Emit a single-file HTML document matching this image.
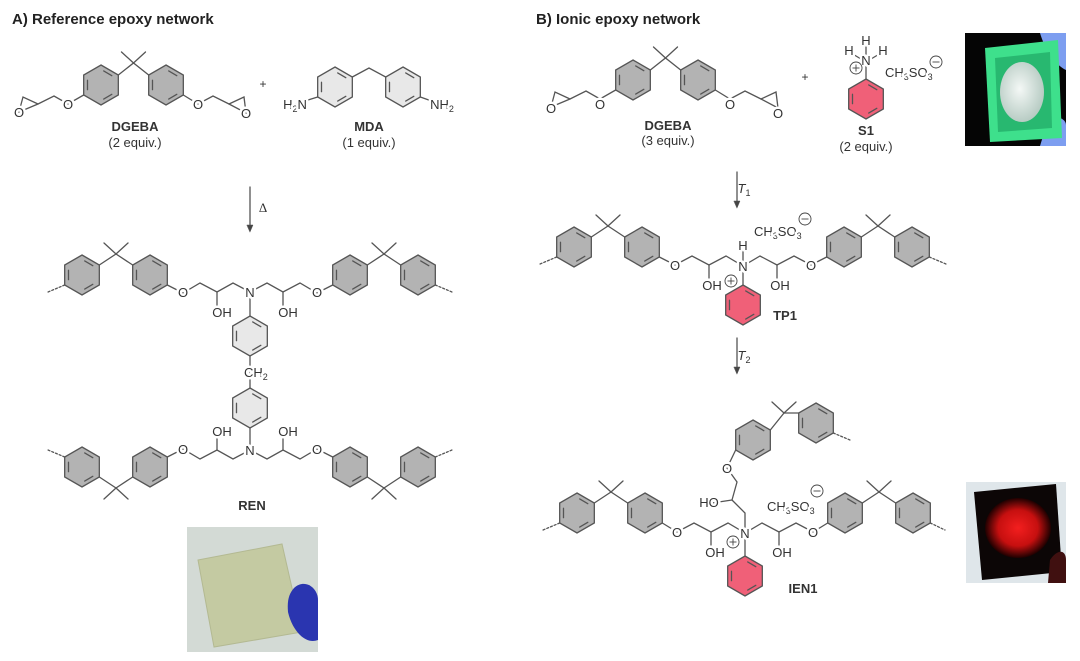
<!DOCTYPE html>
<html><head><meta charset="utf-8"><style>
html,body{margin:0;padding:0;background:#fff;}
svg{display:block;}
text{font-family:"Liberation Sans",sans-serif;fill:#333;}
.a{font-size:13px;text-anchor:middle;paint-order:stroke;stroke:#fff;stroke-width:5px;stroke-linejoin:round;}
.b{font-size:13px;font-weight:bold;text-anchor:middle;}
.e{font-size:13px;text-anchor:middle;}
.t{font-size:15px;font-weight:bold;fill:#222;}
.s{font-size:9px;}
</style></head><body>
<svg id="s" width="1080" height="661" viewBox="0 0 1080 661" xmlns="http://www.w3.org/2000/svg">
<defs>
<radialGradient id="rg" cx="50%" cy="50%" r="50%"><stop offset="0" stop-color="#ff2020"/><stop offset="0.6" stop-color="#d01010"/><stop offset="1" stop-color="#200000"/></radialGradient>
<radialGradient id="wg" cx="45%" cy="45%" r="55%"><stop offset="0" stop-color="#f4f8f6"/><stop offset="1" stop-color="#b8ccc4"/></radialGradient>
</defs>
<!-- photos -->
<rect x="187" y="527" width="131" height="125" fill="#d3dad5"/>
<polygon points="198,560 282,544 302,632 214,647" fill="#c4caa2" stroke="#b3b992"/>
<path d="M294,588 C305,578 318,588 318,600 L318,640 C305,645 292,630 288,612 C287,600 289,594 294,588Z" fill="#2a35b0"/>
<rect x="965" y="33" width="101" height="113" fill="#050505"/>
<path d="M1040,33 L1066,33 L1066,70 C1055,65 1045,50 1040,33Z" fill="#7d9ef0"/>
<path d="M1048,120 C1055,115 1066,118 1066,125 L1066,146 L1040,146Z" fill="#7d9ef0"/>
<polygon points="985,48 1058,40 1062,138 990,142" fill="#3ee08c"/>
<polygon points="995,58 1050,52 1052,128 998,132" fill="#28b870"/>
<ellipse cx="1022" cy="92" rx="22" ry="30" fill="url(#wg)"/>
<rect x="966" y="482" width="100" height="101" fill="#dfe6ea"/>
<polygon points="974,492 1056,484 1062,572 982,580" fill="#0c0606"/>
<ellipse cx="1018" cy="528" rx="33" ry="30" fill="url(#rg)" opacity="0.95"/>
<path d="M1050,560 C1058,548 1066,550 1066,560 L1066,583 L1048,583Z" fill="#401010"/>
<g id="g" stroke="#555" stroke-width="1.3" fill="none" stroke-linecap="round"></g>
<text class="t" x="12" y="24">A) Reference epoxy network</text>
<text class="t" x="536" y="24">B) Ionic epoxy network</text>
<text class="a" x="19" y="117">O</text>
<text class="a" x="68" y="109">O</text>
<text class="a" x="198" y="109">O</text>
<text class="a" x="246" y="118">O</text>
<text class="b" x="135" y="131">DGEBA</text>
<text class="e" x="135" y="147">(2 equiv.)</text>
<text class="e" x="263" y="88" style="font-size:12px">+</text>
<text class="a" x="295" y="109">H<tspan class="s" dy="3">2</tspan><tspan dy="-3">N</tspan></text>
<text class="a" x="442" y="109">NH<tspan class="s" dy="3">2</tspan></text>
<text class="b" x="369" y="131">MDA</text>
<text class="e" x="369" y="147">(1 equiv.)</text>
<text class="e" x="263" y="212" style="font-family:'Liberation Serif',serif">Δ</text>
<text class="a" x="183" y="297">O</text>
<text class="a" x="250" y="297">N</text>
<text class="a" x="317" y="297">O</text>
<text class="a" x="222" y="317">OH</text>
<text class="a" x="288" y="317">OH</text>
<text class="a" x="264" y="377" style="text-anchor:start" transform="translate(-20,0)">CH<tspan class="s" dy="3">2</tspan></text>
<text class="a" x="183" y="454">O</text>
<text class="a" x="250" y="455">N</text>
<text class="a" x="317" y="454">O</text>
<text class="a" x="222" y="436">OH</text>
<text class="a" x="288" y="436">OH</text>
<text class="b" x="252" y="510">REN</text>
<text class="a" x="551" y="113">O</text>
<text class="a" x="600" y="109">O</text>
<text class="a" x="730" y="109">O</text>
<text class="a" x="778" y="118">O</text>
<text class="b" x="668" y="130">DGEBA</text>
<text class="e" x="668" y="145">(3 equiv.)</text>
<text class="e" x="805" y="81" style="font-size:12px">+</text>
<text class="a" x="866" y="45">H</text>
<text class="a" x="849" y="55">H</text>
<text class="a" x="883" y="55">H</text>
<text class="a" x="866" y="65">N</text>
<text class="a" x="885" y="77" style="text-anchor:start">CH<tspan class="s" dy="3">3</tspan><tspan dy="-3">SO</tspan><tspan class="s" dy="3">3</tspan></text>
<text class="b" x="866" y="135">S1</text>
<text class="e" x="866" y="151">(2 equiv.)</text>
<text class="e" x="744" y="193" style="font-style:italic">T<tspan class="s" dy="3" style="font-style:normal">1</tspan></text>
<text class="a" x="675" y="270">O</text>
<text class="a" x="811" y="270">O</text>
<text class="a" x="743" y="250">H</text>
<text class="a" x="743" y="271">N</text>
<text class="a" x="712" y="290">OH</text>
<text class="a" x="780" y="290">OH</text>
<text class="a" x="754" y="236" style="text-anchor:start">CH<tspan class="s" dy="3">3</tspan><tspan dy="-3">SO</tspan><tspan class="s" dy="3">3</tspan></text>
<text class="b" x="785" y="320">TP1</text>
<text class="e" x="744" y="360" style="font-style:italic">T<tspan class="s" dy="3" style="font-style:normal">2</tspan></text>
<text class="a" x="677" y="537">O</text>
<text class="a" x="813" y="537">O</text>
<text class="a" x="745" y="538">N</text>
<text class="a" x="715" y="557">OH</text>
<text class="a" x="782" y="557">OH</text>
<text class="a" x="709" y="507">HO</text>
<text class="a" x="727" y="473">O</text>
<text class="a" x="767" y="511" style="text-anchor:start">CH<tspan class="s" dy="3">3</tspan><tspan dy="-3">SO</tspan><tspan class="s" dy="3">3</tspan></text>
<text class="b" x="803" y="593">IEN1</text>
<g id="c" stroke="#444" stroke-width="0.9" fill="none"></g>
</svg>
<script>
var g=document.getElementById('g'),cg=document.getElementById('c'),NS='http://www.w3.org/2000/svg';
function el(p,t,a){var e=document.createElementNS(NS,t);for(var k in a)e.setAttribute(k,a[k]);p.appendChild(e);return e;}
function L(pts,extra){var a={points:pts.map(function(p){return p.join(',')}).join(' ')};if(extra)for(var k in extra)a[k]=extra[k];return el(g,'polyline',a);}
function D(a,b){L([a,b],{'stroke-dasharray':'2,2'});}
function ring(cx,cy,fill){var r=20,v=[];for(var i=0;i<6;i++){var an=(-90+60*i)*Math.PI/180;v.push([cx+r*Math.cos(an),cy+r*Math.sin(an)]);}
el(g,'polygon',{points:v.map(function(p){return p.join(',')}).join(' '),fill:fill});
[[0,1],[2,3],[4,5]].forEach(function(e){var p=v[e[0]],q=v[e[1]],f=0.78,s=0.2;
var a=[cx+(p[0]-cx)*f,cy+(p[1]-cy)*f],b=[cx+(q[0]-cx)*f,cy+(q[1]-cy)*f];
var a2=[a[0]+(b[0]-a[0])*s,a[1]+(b[1]-a[1])*s],b2=[b[0]+(a[0]-b[0])*s,b[1]+(a[1]-b[1])*s];L([a2,b2]);});
return v;}
var G='#b3b3b3',Lt='#e8e8e8',R='#f06078';
function bis(x1,y,down){var a=ring(x1,y,G),b=ring(x1+68,y,G);var cy=down?y+21:y-21,cx=x1+34;
if(down){L([a[2],[cx,cy],b[4]]);L([[cx,cy],[cx-12,cy+11]]);L([[cx,cy],[cx+12,cy+11]]);}
else{L([a[1],[cx,cy],b[5]]);L([[cx,cy],[cx-12,cy-11]]);L([[cx,cy],[cx+12,cy-11]]);}return [a,b];}
function dgeba(dx,dy){var a=ring(101+dx,85+dy,G),b=ring(166+dx,85+dy,G);var c=[133.5+dx,63+dy];
L([a[1],c,b[5]]);L([c,[c[0]-12,c[1]-11]]);L([c,[c[0]+12,c[1]-11]]);
L([a[4],[68+dx,104+dy],[54+dx,96+dy],[38+dx,104+dy]]);L([[38+dx,104+dy],[23+dx,97+dy],[19+dx,112+dy],[38+dx,104+dy]]);
L([b[2],[198+dx,104+dy],[213+dx,96+dy],[229+dx,104+dy]]);L([[229+dx,104+dy],[244+dx,97+dy],[246+dx,113+dy],[229+dx,104+dy]]);}
dgeba(0,0);dgeba(532,-5);
var m1=ring(335,87,Lt),m2=ring(403,87,Lt);L([m1[1],[369,68],m2[5]]);L([m1[4],[295,104]]);L([m2[2],[440,104]]);
function arrow(x,y1,y2){L([[x,y1],[x,y2-5]]);el(g,'polygon',{points:(x-3)+','+(y2-7)+' '+(x+3)+','+(y2-7)+' '+x+','+y2,fill:'#444','stroke-width':'0.5'});}
arrow(250,187,232);arrow(737,172,208);arrow(737,338,374);
var u1=bis(82,275,false),u2=bis(350,275,false);D(u1[0][4],[48,292]);D(u2[1][2],[452,292]);
L([u1[1][2],[183,293],[200,283],[217,292],[233,283],[250,292],[267,283],[283,292],[300,283],[317,293],u2[0][4]]);
L([[217,292],[217,306]]);L([[283,292],[283,306]]);
var c1=ring(250,336,Lt),c2=ring(250,408,Lt);L([[250,292],c1[0]]);L([c1[3],[250,372]]);L([[250,372],c2[0]]);L([c2[3],[250,450]]);
var l1=bis(82,467,true),l2=bis(350,467,true);D(l1[0][5],[48,450]);D(l2[1][1],[452,450]);
L([l1[1][1],[183,449],[200,459],[217,450],[233,459],[250,450],[267,459],[283,450],[300,459],[317,449],l2[0][5]]);
L([[217,450],[217,436]]);L([[283,450],[283,436]]);
var s1=ring(866,99,R);L([[866,64],s1[0]]);L([[866,62],[866,47]]);L([[866,62],[851,53]]);L([[866,62],[881,53]]);
var t1=bis(574,247,false),t2=bis(844,247,false);D(t1[0][4],[540,264]);D(t2[1][2],[946,264]);
L([t1[1][2],[675,265],[692,256],[709,265],[726,256],[743,266],[760,256],[777,265],[794,256],[811,265],t2[0][4]]);
L([[709,265],[709,278]]);L([[777,265],[777,278]]);L([[743,266],[743,250]]);
var tr=ring(743,305,R);L([[743,266],tr[0]]);
var i1=bis(577,513,false),i2=bis(845,513,false);D(i1[0][4],[543,530]);D(i2[1][2],[945,530]);
L([i1[1][2],[677,532],[694,523],[711,532],[728,523],[745,533],[762,523],[779,532],[796,523],[813,532],i2[0][4]]);
L([[711,532],[711,545]]);L([[779,532],[779,545]]);
L([[745,533],[745,513],[732,500],[737,482],[727,468]]);L([[732,500],[712,503]]);
var up=ring(753,440,G),up2=ring(816,423,G);L([[727,468],up[4]]);var uc=[784,413];L([up[1],uc,up2[5]]);L([uc,[772,402]]);L([uc,[796,402]]);D(up2[2],[850,440]);
var ir=ring(745,576,R);L([[745,533],ir[0]]);
function L2(p){el(cg,'polyline',{points:p.map(function(q){return q.join(',')}).join(' ')});}
function chg(x,y,plus){el(cg,'circle',{cx:x,cy:y,r:6,fill:'#fff'});L2([[x-3.5,y],[x+3.5,y]]);if(plus)L2([[x,y-3.5],[x,y+3.5]]);}
chg(856,68,true);chg(936,62,false);chg(731,281,true);chg(805,219,false);chg(733,542,true);chg(817,491,false);
var svg=document.getElementById('s');svg.insertBefore(g,svg.querySelector('text'));
</script>
</body></html>
